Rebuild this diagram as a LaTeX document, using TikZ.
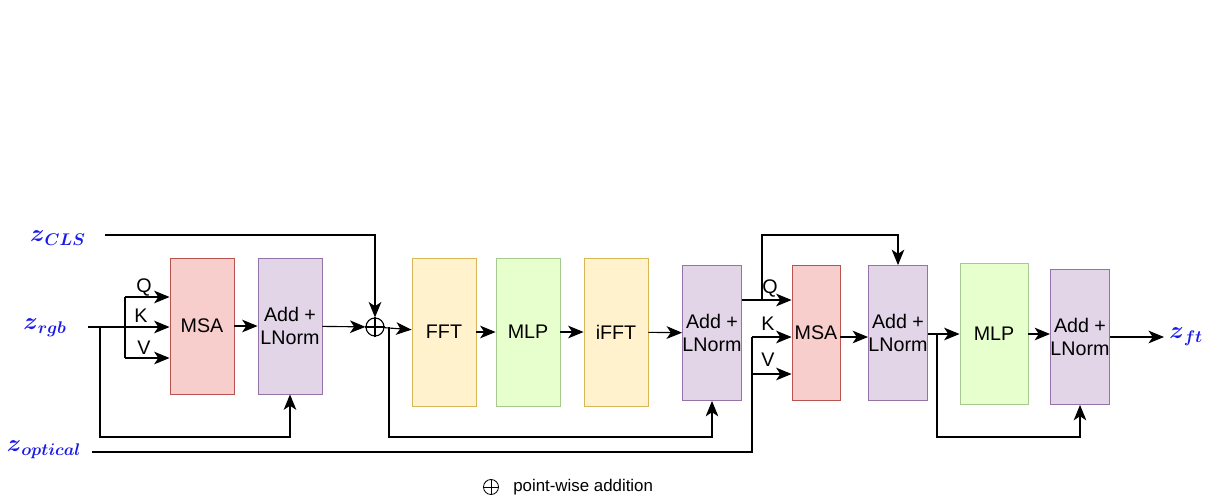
\documentclass[tikz,border=0pt]{standalone}
\usepackage{fontspec}
\setmainfont{Liberation Sans}
\usepackage{amsmath}
\usepackage{amssymb}
\usetikzlibrary{arrows.meta}

\definecolor{msafill}{HTML}{F8CECC}
\definecolor{msaline}{HTML}{B85450}
\definecolor{lnfill}{HTML}{E1D5E7}
\definecolor{lnline}{HTML}{9673A6}
\definecolor{fftfill}{HTML}{FFF2CC}
\definecolor{fftline}{HTML}{D6B656}
\definecolor{mlpfill}{HTML}{E6FFCC}
\definecolor{mlpline}{HTML}{A6C98F}
\definecolor{zblue}{HTML}{1A1AE6}

\tikzset{
  blk/.style = {rectangle, draw, line width=0.6pt, inner sep=0pt,
                align=center, font=\fontsize{14}{17}\selectfont},
  msa/.style = {blk, fill=msafill, draw=msaline},
  lnorm/.style = {blk, fill=lnfill, draw=lnline},
  fft/.style = {blk, fill=fftfill, draw=fftline},
  mlp/.style = {blk, fill=mlpfill, draw=mlpline},
  zlab/.style = {text=zblue, font=\fontsize{18}{20}\selectfont},
  qkv/.style = {font=\fontsize{14}{16}\selectfont, inner sep=1pt}
}
\newcommand{\zvar}[1]{$\boldsymbol{z}_{\boldsymbol{#1}}$}

\begin{document}
\begin{tikzpicture}[x=0.025cm, y=-0.025cm, ->, >={Stealth[length=11pt,width=9pt,inset=3pt]}, line width=0.8pt]
  \useasboundingbox (0,0) rectangle (1231,502);

  % inputs
  \node[zlab] (zcls) at (58,238) {\zvar{CLS}};
  \node[zlab] (zrgb) at (45,328) {\zvar{rgb}};
  \node[zlab] (zopt) at (44,450) {\zvar{optical}};

  % first encoder
  \node[msa, minimum width=64*0.025cm, minimum height=136*0.025cm] (msa1) at (202,326) {MSA};
  \node[lnorm, minimum width=64*0.025cm, minimum height=136*0.025cm] (ln1) at (290,326) {Add +\\LNorm};
  \node[circle, draw, inner sep=0pt, minimum size=18*0.025cm, line width=0.8pt] (plus) at (375,327) {};
  \draw[-] (plus.north) -- (plus.south) (plus.west) -- (plus.east);

  % fourier block
  \node[fft, minimum width=64*0.025cm, minimum height=148*0.025cm] (fft) at (444,332) {FFT};
  \node[mlp, minimum width=64*0.025cm, minimum height=148*0.025cm] (mlp1) at (528,332) {MLP};
  \node[fft, minimum width=64*0.025cm, minimum height=148*0.025cm] (ifft) at (616,332) {iFFT};
  \node[lnorm, minimum width=58*0.025cm, minimum height=135*0.025cm] (ln2) at (712,333) {Add +\\LNorm};

  % cross attention encoder
  \node[msa, minimum width=48*0.025cm, minimum height=135*0.025cm] (msa2) at (816,333) {MSA};
  \node[lnorm, minimum width=59*0.025cm, minimum height=135*0.025cm] (ln3) at (898,333) {Add +\\LNorm};
  \node[mlp, minimum width=68*0.025cm, minimum height=141*0.025cm] (mlp2) at (994,334) {MLP};
  \node[lnorm, minimum width=59*0.025cm, minimum height=135*0.025cm] (ln4) at (1080,337) {Add +\\LNorm};
  \node[zlab, anchor=west] (zft) at (1164,337) {\zvar{ft}};

  % junction points
  \coordinate (jrgb) at (125,327);
  \coordinate (jq1) at (125,297);
  \coordinate (jv1) at (125,358);
  \coordinate (jres1) at (100,327);
  \coordinate (jsum) at (389,327);
  \coordinate (jq) at (762,300);
  \coordinate (jtop) at (762,235);
  \coordinate (jkv) at (752,337);
  \coordinate (jv2) at (752,374);
  \coordinate (jopt) at (752,452);
  \coordinate (jres3) at (937,334);

  % zrgb to q, k, v
  \draw (88,327) -- (msa1.west |- jrgb);
  \draw[-] (jq1) -- (jv1);
  \draw (jq1) -- (msa1.west |- jq1);
  \draw (jv1) -- (msa1.west |- jv1);
  \node[qkv] (qlab) at (144,287) {Q};
  \node[qkv] (klab) at (141,316) {K};
  \node[qkv] (vlab) at (144,348) {V};
  \draw (jres1) -- (100,437) -| (ln1.south);
  \draw (msa1) -- (ln1);
  \draw (ln1) -- (plus);
  \draw (105,235) -| (plus.north);

  % fourier path
  \draw (plus) -- (fft);
  \draw (jsum) -- (389,437) -| (ln2.south);
  \draw (fft) -- (mlp1);
  \draw (mlp1) -- (ifft);
  \draw (ifft) -- (ln2);

  % cross attention
  \draw[-] (ln2.east |- jq) -- (jq);
  \draw (jq) -- (msa2.west |- jq);
  \node[qkv] (q2lab) at (770,288) {Q};
  \draw (jq) -- (jtop) -| (ln3.north);
  \draw[-] (92,452) -- (jopt) -- (jkv);
  \draw (jkv) -- (msa2.west |- jkv);
  \node[qkv] (k2lab) at (768,324) {K};
  \draw (jv2) -- (msa2.west |- jv2);
  \node[qkv] (v2lab) at (768,360) {V};
  \draw (msa2.east |- jkv) -- (ln3.west |- jkv);
  \draw (ln3.east |- jres3) -- (mlp2.west |- jres3);
  \draw (jres3) -- (937,437) -| (ln4.south);
  \draw (mlp2.east |- jres3) -- (ln4.west |- jres3);
  \draw (ln4.east |- jkv) -- (zft.west |- jkv);

  % legend
  \node[circle, draw, inner sep=0pt, minimum size=15*0.025cm, line width=0.6pt] (lplus) at (491,487) {};
  \draw[-, line width=0.6pt] (lplus.north) -- (lplus.south) (lplus.west) -- (lplus.east);
  \node[anchor=west, font=\fontsize{12}{14}\selectfont] (legend) at (508,487) {point-wise addition};
\end{tikzpicture}
\end{document}
